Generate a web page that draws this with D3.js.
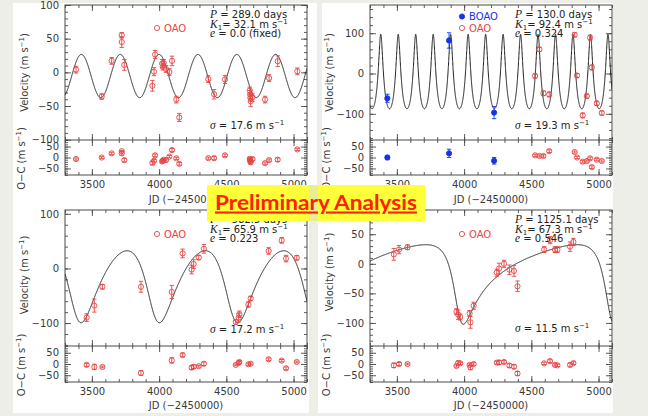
<!DOCTYPE html>
<html><head><meta charset="utf-8">
<script src="https://cdn.jsdelivr.net/npm/d3@7/dist/d3.min.js"></script>
<style>
html,body{margin:0;padding:0;background:#eeeee8;}
svg{display:block;}
</style></head>
<body>
<svg id="chart" width="648" height="416"></svg>
<script>
// ---------------- DATA ----------------
const jdTicks = [3500, 4000, 4500, 5000];
const jdRange = [3300, 5100];
const resTicks = [-50, 0, 50];
const aVelTicks = [-100, -50, 0, 50, 100];
const bVelTicks = [-100, 0, 100];
const cVelTicks = [-100, 0, 100];
const dVelTicks = [-100, -50, 0, 50];

// orbital solutions (one entry per panel)
const orbitP = [289.0, 130.0, 582.5, 1125.1];
const orbitK = [32.1, 92.4, 65.9, 67.3];
const orbitE = [0.0, 0.324, 0.223, 0.546];
const orbitOmega = [0, 0, 143, 137];
const orbitTp = [4000, 3380, 3382, 3959];
const orbitGamma = [-5.5, -25, -21.8, -8.1];

const labelP = ["289.0", "130.0", "582.5", "1125.1"];
const labelK = ["32.1", "92.4", "65.9", "67.3"];
const labelE = ["0.0 (fixed)", "0.324", "0.223", "0.546"];
const labelSigma = ["17.6", "19.3", "17.2", "11.5"];

// Panel A (top left) - OAO
const aJD  = [3382,3573,3647,3722,3722,3741,3950,3962,3970,4022,4027,4034,4051,4076,4096,4128,4150,4366,4409,4490,4674,4677,4679,4681,4695,4788,4818,4882,5028];
const aVel = [4,-36,17,55,45,11,-20,1,26.5,13,8.5,14,5,0.5,17,-40.5,-67,-10,-32.5,-10.5,-27,-33,-38,-43,-37,-40.5,-8.5,16.5,1.5];
const aErr = [5,4,5,4,8,8,8,6,6,6,5,5,5,5,7,5,6,5,7,6,5,6,5,8,6,5,5,8,5];
const aRes = [-7,0,19,29,19,-12,-25,-15,10,-18,-15,-10,-12,4,34,-4,-29,-3,-3,10,-6,-12,-17,-22,-7,-26,-12,-10,37];

// Panel B (top right) - BOAO and OAO
const bBoaoJD  = [3429, 3888, 4223];
const bBoaoVel = [-61.5, 82, -97];
const bBoaoErr = [10, 19, 15];
const bBoaoRes = [0, 19, -15];
const bOaoJD  = [4528,4560,4590,4633,4822,4840,4882,4913,4937,4950,4987,5024];
const bOaoVel = [-6,60,-49,-52,96,-5,-104,-56,89,15,-74,-98];
const bOaoErr = [5,5,6,6,5,5,6,5,6,6,5,5];
const bOaoRes = [10,7,7,29,25,0,-19,-16,-4,-44,-10,-16];

// Panel C (bottom left) - OAO
const cJD  = [3461,3518,3578,3865,4094,4175,4242,4257,4295,4333,4570,4592,4597,4664,4681,4815,4912,4944,5024];
const cVel = [-90,-68,-33.5,-33.5,-43,27.5,-2,8,20,36,-98,-90,-84,-66,-55,32,51.5,18,19.5];
const cErr = [7,12,4,10,12,8,8,8,4,8,4,8,6,5,4,6,5,6,4];
const cRes = [-4,-13,-13,-40,16,40,-16,-12,-10,1,-4,5,9,-1,1,21,15,-19,9];

// Panel D (bottom right) - OAO
const dJD  = [3477,3516,3579,3943,3956,3971,4041,4047,4071,4243,4260,4297,4337,4371,4397,4595,4639,4676,4694,4788,4813];
const dVel = [16,24,28,-81,-86,-90,-84,-99,-71,-15,-8,0,-10,-12,-38,24,40,24,24,29,37];
const dErr = [10,7,4,5,8,5,5,10,6,6,9,6,8,9,9,5,6,5,5,8,6];
const dRes = [-6,0,0,-9,5,3,-4,-15,0,6,7,9,-7,-12,-42,3,13,-4,-6,-4,4];

// ---------------- RENDER ----------------
const svg = d3.select("#chart");
const RED = "#e54444", BLUE = "#1733e8", INK = "#3a3a3a", FRAME = "#4a4a4a";
const FONT = "'DejaVu Sans', 'Liberation Sans', sans-serif";
const SERIF = "'Liberation Serif', 'DejaVu Serif', serif";
const FS = 10;
const resDomain = [-80, 80];

// white sheets of the four pasted figures
[[13,3,304,203],[322,3,291,203],[13,206,296,207],[318,206,295,207]].forEach(r => {
  svg.append("rect").attr("x", r[0]).attr("y", r[1]).attr("width", r[2]).attr("height", r[3]).attr("fill", "#ffffff");
});

function rv(t, i) {
  const P = orbitP[i], K = orbitK[i], e = orbitE[i], w = orbitOmega[i] * Math.PI / 180;
  let M = 2 * Math.PI * (t - orbitTp[i]) / P;
  M = M - 2 * Math.PI * Math.floor(M / (2 * Math.PI));
  let E = M + e * Math.sin(M);
  for (let k = 0; k < 50; k++) E = E - (E - e * Math.sin(E) - M) / (1 - e * Math.cos(E));
  const nu = 2 * Math.atan2(Math.sqrt(1 + e) * Math.sin(E / 2), Math.sqrt(1 - e) * Math.cos(E / 2));
  return K * (Math.cos(nu + w) + e * Math.cos(w)) + orbitGamma[i];
}

function minorVals(domain, step) {
  const lo = Math.ceil(domain[0] / step) * step;
  return d3.range(lo, domain[1] + 1e-6, step);
}

function styleAxis(sel) {
  sel.select(".domain").remove();
  sel.selectAll("line").attr("stroke", FRAME).attr("stroke-width", 0.9);
  sel.selectAll("text").attr("fill", INK).attr("font-family", FONT).attr("font-size", FS);
}

function panel(idx, L, velTicks, velMinor, sets) {
  const g = svg.append("g");
  const x = d3.scaleLinear().domain(jdRange).range([L.x0, L.x1]);
  const y = d3.scaleLinear().domain(L.velDomain).range([L.mid, L.top]);
  const yr = d3.scaleLinear().domain(resDomain).range([L.bot, L.mid]);
  const fmt = d3.format("d");
  const xMinor = minorVals(jdRange, 100);

  const addY = (scale, ticks, step, dom) => {
    g.append("g").attr("transform", `translate(${L.x0},0)`)
      .call(d3.axisLeft(scale).tickValues(ticks).tickSize(-6).tickPadding(6).tickFormat(fmt)).call(styleAxis);
    g.append("g").attr("transform", `translate(${L.x0},0)`)
      .call(d3.axisLeft(scale).tickValues(minorVals(dom, step)).tickSize(-3).tickFormat("")).call(styleAxis);
    g.append("g").attr("transform", `translate(${L.x1},0)`)
      .call(d3.axisRight(scale).tickValues(ticks).tickSize(-6).tickFormat("")).call(styleAxis);
    g.append("g").attr("transform", `translate(${L.x1},0)`)
      .call(d3.axisRight(scale).tickValues(minorVals(dom, step)).tickSize(-3).tickFormat("")).call(styleAxis);
  };
  addY(y, velTicks, velMinor, L.velDomain);
  addY(yr, resTicks, 10, resDomain);

  const addX = (yy, dir, labels) => {
    const ax = dir === "top" ? d3.axisTop(x) : d3.axisBottom(x);
    g.append("g").attr("transform", `translate(0,${yy})`)
      .call(ax.tickValues(jdTicks).tickSize(-6).tickPadding(6).tickFormat(labels ? fmt : "")).call(styleAxis);
    const ax2 = dir === "top" ? d3.axisTop(x) : d3.axisBottom(x);
    g.append("g").attr("transform", `translate(0,${yy})`)
      .call(ax2.tickValues(xMinor).tickSize(-3).tickFormat("")).call(styleAxis);
  };
  addX(L.top, "top", false);
  addX(L.mid, "bottom", false);
  addX(L.mid, "top", false);
  addX(L.bot, "bottom", true);

  // frame
  g.append("rect").attr("x", L.x0).attr("y", L.top).attr("width", L.x1 - L.x0).attr("height", L.bot - L.top)
    .attr("fill", "none").attr("stroke", FRAME).attr("stroke-width", 1);
  g.append("line").attr("x1", L.x0).attr("x2", L.x1).attr("y1", L.mid).attr("y2", L.mid)
    .attr("stroke", FRAME).attr("stroke-width", 1);

  // model curve
  const clipId = "clip" + idx;
  svg.append("clipPath").attr("id", clipId).append("rect")
    .attr("x", L.x0).attr("y", L.top).attr("width", L.x1 - L.x0).attr("height", L.mid - L.top);
  const ts = d3.range(jdRange[0], jdRange[1] + 0.01, 0.5);
  g.append("path").datum(ts).attr("clip-path", `url(#${clipId})`)
    .attr("fill", "none").attr("stroke", "#1a1a1a").attr("stroke-width", 1)
    .attr("d", d3.line().x(t => x(t)).y(t => y(rv(t, idx))));

  // data points
  sets.forEach(s => {
    const drawPts = (scale, vals) => {
      const pts = g.append("g");
      s.jd.forEach((t, i) => {
        const cx = x(t), cy = scale(vals[i]);
        const lo = scale(vals[i] - s.err[i]), hi = scale(vals[i] + s.err[i]);
        pts.append("line").attr("x1", cx).attr("x2", cx).attr("y1", lo).attr("y2", hi)
          .attr("stroke", s.color).attr("stroke-width", 0.9);
        [lo, hi].forEach(yy => pts.append("line").attr("x1", cx - 2.2).attr("x2", cx + 2.2).attr("y1", yy).attr("y2", yy)
          .attr("stroke", s.color).attr("stroke-width", 0.9));
        pts.append("circle").attr("cx", cx).attr("cy", cy).attr("r", 2.6)
          .attr("fill", s.filled ? s.color : "none").attr("stroke", s.color).attr("stroke-width", 0.9);
      });
    };
    drawPts(y, s.vel);
    drawPts(yr, s.res);
  });

  // JD title
  svg.append("text").attr("x", (L.x0 + L.x1) / 2).attr("y", L.jdY).attr("text-anchor", "middle")
    .attr("font-family", FONT).attr("font-size", FS).attr("fill", INK).text("JD (−2450000)");

  // rotated titles
  const vTitle = (tx, ty, main) => {
    const t = svg.append("text").attr("transform", `translate(${tx},${ty}) rotate(-90)`)
      .attr("text-anchor", "middle").attr("font-family", FONT).attr("font-size", FS).attr("fill", INK);
    t.append("tspan").text(main + " (m s");
    t.append("tspan").attr("dy", -4).attr("font-size", 7).text("−1");
    t.append("tspan").attr("dy", 4).text(")");
  };
  vTitle(L.titleX, (L.top + L.mid) / 2 + L.vShift, "Velocity");
  vTitle(L.titleX - 3, (L.mid + L.bot) / 2 + 1, "O−C");

  // parameter text
  const px = L.paramX, py = L.paramY;
  const base = (yy) => svg.append("text").attr("x", px).attr("y", yy)
    .attr("font-family", FONT).attr("font-size", FS).attr("fill", "#222");
  let t = base(py);
  t.append("tspan").attr("font-family", SERIF).attr("font-style", "italic").attr("font-size", 11.5).text("P");
  t.append("tspan").text(" = " + labelP[idx] + " days");
  t = base(py + 9.5);
  t.append("tspan").attr("font-family", SERIF).attr("font-style", "italic").attr("font-size", 11.5).text("K");
  t.append("tspan").attr("dy", 2.5).attr("font-size", 7).text("1");
  t.append("tspan").attr("dy", -2.5).text("= " + labelK[idx] + " m s");
  t.append("tspan").attr("dy", -4).attr("font-size", 7).text("−1");
  t = base(py + 19);
  t.append("tspan").attr("font-family", SERIF).attr("font-style", "italic").attr("font-size", 11.5).text("e");
  t.append("tspan").text(" = " + labelE[idx]);
  t = base(L.sigmaY);
  t.append("tspan").attr("font-family", SERIF).attr("font-style", "italic").attr("font-size", 11.5).text("σ");
  t.append("tspan").text(" = " + labelSigma[idx] + " m s");
  t.append("tspan").attr("dy", -4).attr("font-size", 7).text("−1");

  // legend
  sets.forEach((s, k) => {
    const ly = L.legY + k * 11.5;
    svg.append("circle").attr("cx", L.legX).attr("cy", ly).attr("r", 2.6)
      .attr("fill", s.filled ? s.color : "none").attr("stroke", s.color).attr("stroke-width", 0.9);
    svg.append("text").attr("x", L.legX + 7).attr("y", ly + 3.6).attr("font-family", FONT)
      .attr("font-size", FS).attr("fill", s.color).text(s.name);
  });
}

panel(0, {x0:65, x1:307, top:5, mid:140, bot:175, velDomain:[-100.5,100], jdY:203, titleX:28, vShift:0,
          paramX:210, paramY:18, sigmaY:128.5, legX:157, legY:28},
      aVelTicks, 10,
      [{name:"OAO", color:RED, filled:false, jd:aJD, vel:aVel, err:aErr, res:aRes}]);

panel(1, {x0:370, x1:612, top:5, mid:140, bot:175, velDomain:[-165,170], jdY:203, titleX:333, vShift:0,
          paramX:515, paramY:18, sigmaY:128.5, legX:462, legY:16.5},
      bVelTicks, 20,
      [{name:"BOAO", color:BLUE, filled:true, jd:bBoaoJD, vel:bBoaoVel, err:bBoaoErr, res:bBoaoRes},
       {name:"OAO", color:RED, filled:false, jd:bOaoJD, vel:bOaoVel, err:bOaoErr, res:bOaoRes}]);

panel(2, {x0:65, x1:307, top:210, mid:346, bot:382, velDomain:[-142,107], jdY:409, titleX:28, vShift:-3,
          paramX:210, paramY:223, sigmaY:332.5, legX:157, legY:234},
      cVelTicks, 20,
      [{name:"OAO", color:RED, filled:false, jd:cJD, vel:cVel, err:cErr, res:cRes}]);

panel(3, {x0:370, x1:612, top:210, mid:346, bot:382, velDomain:[-139,91], jdY:409, titleX:333, vShift:-6,
          paramX:515, paramY:223, sigmaY:331.5, legX:462, legY:234},
      dVelTicks, 10,
      [{name:"OAO", color:RED, filled:false, jd:dJD, vel:dVel, err:dErr, res:dRes}]);

// banner
svg.append("rect").attr("x", 207).attr("y", 185).attr("width", 218).attr("height", 36).attr("fill", "#ffff3a");
svg.append("rect").attr("x", 309).attr("y", 185).attr("width", 9).attr("height", 36).attr("fill", "#e6e6b0").attr("opacity", 0.8);
svg.append("text").attr("x", 215).attr("y", 209.5)
  .attr("font-family", "Lato, 'Open Sans', sans-serif").attr("font-weight", "bold").attr("font-size", 21)
  .attr("fill", "#ff2200").attr("textLength", 202).attr("lengthAdjust", "spacingAndGlyphs")
  .attr("text-decoration", "underline").text("Preliminary Analysis");
</script>
</body></html>
